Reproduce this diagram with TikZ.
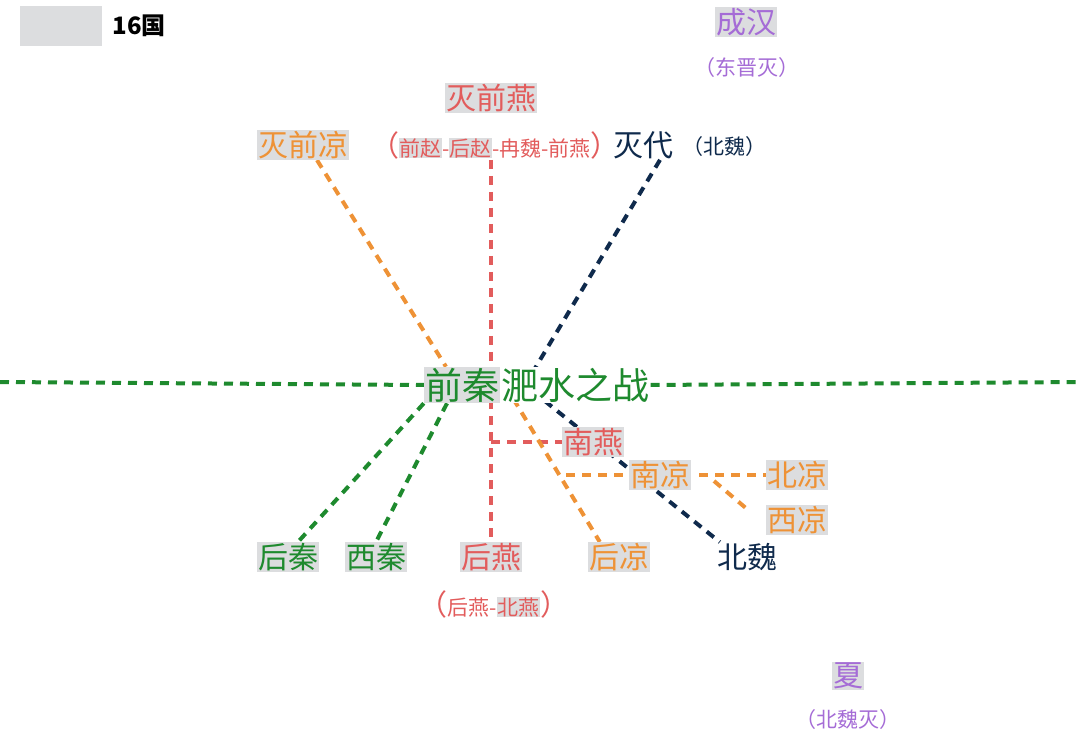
\documentclass[tikz,border=0pt]{standalone}
\usepackage{fontspec}
\setmainfont{Noto Sans CJK SC}
\usetikzlibrary{positioning,backgrounds}

\definecolor{qingreen}{HTML}{1E8A2E}
\definecolor{yanred}{HTML}{E25C5C}
\definecolor{liangorange}{HTML}{EE9236}
\definecolor{weinavy}{HTML}{0F2A4C}
\definecolor{hanpurple}{HTML}{A56CD6}
\definecolor{hlgray}{HTML}{DCDDDF}

\newcommand{\hl}[1]{{\setlength{\fboxsep}{0.5pt}\colorbox{hlgray}{#1}}}
\newcommand{\bigfont}{\fontsize{30}{32}\selectfont}
\newcommand{\smallfont}{\fontsize{21}{23}\selectfont}
\newcommand{\paren}[1]{{\fontsize{29}{31}\selectfont #1}}

\begin{document}
\begin{tikzpicture}[
        x=1pt, y=-1pt,
        kingdom/.style={fill=hlgray, inner sep=1pt, font=\bigfont},
        plain/.style={inner sep=1pt, font=\bigfont},
        note/.style={inner sep=0pt, font=\smallfont},
        battle/.style={inner sep=1pt, font=\fontsize{37}{39}\selectfont, text=qingreen},
        road/.style={dash pattern=on 9pt off 7pt, line width=4pt}
    ]
        \useasboundingbox (0,0) rectangle (1080,738);

        % Legend
        \node[fill=hlgray, minimum width=82pt, minimum height=40pt, inner sep=0pt] (legendbox) at (61,26) {};
        \node[inner sep=0pt, font=\fontsize{24}{26}\selectfont\bfseries, right=10pt of legendbox] (legendtext) {16国};

        % Top row
        \node[kingdom, text=hanpurple] (chenghan) at (746,22) {成汉};
        \node[note, text=hanpurple] (chenghanend) at (747,68) {（东晋灭）};
        \node[kingdom, text=yanred] (mieqianyan) at (491,98) {灭前燕};
        \node[note, text=yanred] (zhaochain) at (495,145) {\paren{（}\hl{前赵}-\hl{后赵}-冉魏-前燕\paren{）}};
        \node[plain, text=weinavy] (miedai) at (643,145) {灭代};
        \node[note, text=weinavy] (miedaiby) at (724,147) {（北魏）};
        \node[kingdom, text=liangorange] (mieqianliang) at (303,145) {灭前凉};

        % Battle
        \node[battle, fill=hlgray] (qianqin) at (462,385) {前秦};
        \node[battle, fill=white, right=0pt of qianqin] (feishui) {淝水之战};
        \coordinate (warleft) at (0,382);
        \coordinate (warright) at (1080,382);

        % Successor states
        \node[kingdom, text=yanred] (nanyan) at (593,442) {南燕};
        \node[kingdom, text=liangorange] (nanliang) at (660,475) {南凉};
        \node[kingdom, text=liangorange] (beiliang) at (797,475) {北凉};
        \node[kingdom, text=liangorange] (xiliang) at (797,520) {西凉};
        \node[kingdom, text=qingreen] (houqin) at (288,557) {后秦};
        \node[kingdom, text=qingreen] (xiqin) at (376,557) {西秦};
        \node[kingdom, text=yanred] (houyan) at (491,557) {后燕};
        \node[kingdom, text=liangorange] (houliang) at (619,557) {后凉};
        \node[plain, text=weinavy] (beiwei) at (747,557) {北魏};
        \node[note, text=yanred] (yanchain) at (494,604) {\paren{（}后燕-\hl{北燕}\paren{）}};

        % Bottom right
        \node[kingdom, text=hanpurple] (xia) at (848,676) {夏};
        \node[note, text=hanpurple] (xiaend) at (848,720) {（北魏灭）};

        % Branch points
        \coordinate (yantop) at (491,160);
        \coordinate (yanbranch) at (491,442);
        \coordinate (liangfork) at (505,385);
        \coordinate (liangbranch) at (566,475);
        \coordinate (liangsplit) at (714,481);
        \coordinate (daikink) at (525,385);

        \begin{scope}[on background layer]
            % Qin lines
            \draw[road, qingreen] (warleft) -- (qianqin.west);
            \draw[road, qingreen] (feishui.east) -- (warright);
            \draw[road, qingreen] (qianqin.south west) -- ([xshift=10pt]houqin.north);
            \draw[road, qingreen] ([xshift=-15pt]qianqin.south) -- (xiqin.north);

            % Yan lines
            \draw[road, yanred] (yantop) -- (houyan.north);
            \draw[road, yanred] (yanbranch) -- (nanyan.west);

            % Liang lines
            \draw[road, liangorange] ([xshift=14pt]mieqianliang.south) -- ([xshift=-16pt]qianqin.north);
            \draw[road, liangorange] (liangfork) -- ([xshift=12pt]houliang.north west);
            \draw[road, liangorange] (liangbranch) -- (nanliang.west);
            \draw[road, liangorange] ([xshift=8pt]nanliang.east) -- (beiliang.west);
            \draw[road, liangorange] (liangsplit) -- ([xshift=-20pt, yshift=-3pt]xiliang.north west);

            % Wei line
            \draw[road, weinavy] ([xshift=17pt]miedai.south) -- (daikink) -- ([xshift=4pt]beiwei.north west);
        \end{scope}
    \end{tikzpicture}
\end{document}
